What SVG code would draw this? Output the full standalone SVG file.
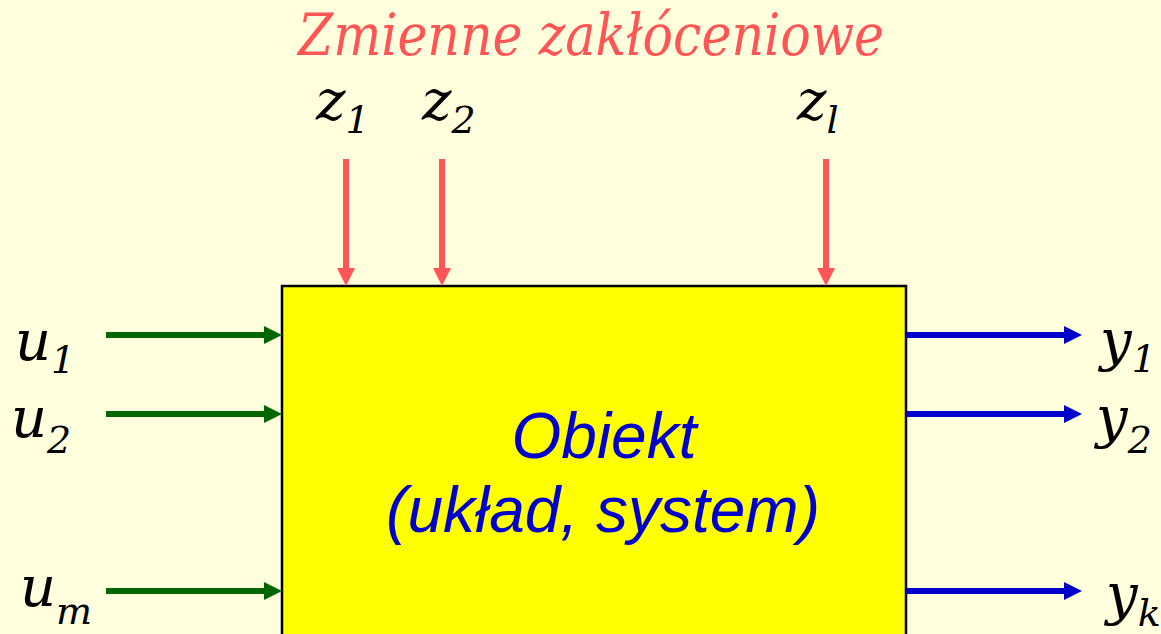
<svg xmlns="http://www.w3.org/2000/svg" width="1161" height="634" viewBox="0 0 1161 634">
<style>
.lbl{font-family:'DejaVu Serif',serif;font-style:italic;fill:#000;font-size:56px}
.sub{font-size:38px}
.title{font-family:'DejaVu Serif',serif;font-style:italic;fill:#FF5555;font-size:58px}
.obj{font-family:'Liberation Sans',sans-serif;font-style:italic;fill:#0000CC;font-size:64px}
.g{stroke:#006600;stroke-width:6;fill:none}
.b{stroke:#0000CC;stroke-width:6;fill:none}
.r{stroke:#FF5555;stroke-width:6;fill:none}
</style>
<defs>
<marker id="ag" markerUnits="userSpaceOnUse" markerWidth="18" markerHeight="18" refX="0" refY="9" orient="auto"><path d="M0,0 L18,9 L0,18 Z" fill="#006600"/></marker>
<marker id="ab" markerUnits="userSpaceOnUse" markerWidth="18" markerHeight="18" refX="0" refY="9" orient="auto"><path d="M0,0 L18,9 L0,18 Z" fill="#0000CC"/></marker>
<marker id="ar" markerUnits="userSpaceOnUse" markerWidth="18" markerHeight="18" refX="0" refY="9" orient="auto"><path d="M0,0 L18,9 L0,18 Z" fill="#FF5555"/></marker>
</defs>
<rect width="1161" height="634" fill="#FFFFDD"/>
<text class="title" x="591" y="55" text-anchor="middle" textLength="586" lengthAdjust="spacingAndGlyphs">Zmienne zakłóceniowe</text>
<g id="obiekt">
<rect x="282" y="286" width="624" height="360" fill="#FFFF00" stroke="#000" stroke-width="2.5"/>
<text class="obj" x="604" y="458" text-anchor="middle">Obiekt</text>
<text class="obj" x="603" y="532" text-anchor="middle">(układ, system)</text>
</g>
<g id="connectors">
<line class="g" x1="106" y1="335" x2="264" y2="335" marker-end="url(#ag)"/>
<line class="g" x1="106" y1="414" x2="264" y2="414" marker-end="url(#ag)"/>
<line class="g" x1="106" y1="591" x2="264" y2="591" marker-end="url(#ag)"/>
<line class="b" x1="906" y1="335" x2="1064" y2="335" marker-end="url(#ab)"/>
<line class="b" x1="906" y1="414" x2="1064" y2="414" marker-end="url(#ab)"/>
<line class="b" x1="906" y1="591" x2="1064" y2="591" marker-end="url(#ab)"/>
<line class="r" x1="346" y1="159" x2="346" y2="268" marker-end="url(#ar)"/>
<line class="r" x1="442" y1="159" x2="442" y2="268" marker-end="url(#ar)"/>
<line class="r" x1="826" y1="159" x2="826" y2="268" marker-end="url(#ar)"/>
</g>
<g id="u1"><text class="lbl" x="15" y="360">u<tspan class="sub" dy="13">1</tspan></text></g>
<g id="u2"><text class="lbl" x="11" y="437">u<tspan class="sub" dy="16">2</tspan></text></g>
<g id="um"><text class="lbl" x="20" y="606">u<tspan class="sub" dy="18" font-size="32">m</tspan></text></g>
<g id="y1"><text class="lbl" x="1100" y="360">y<tspan class="sub" dy="12">1</tspan></text></g>
<g id="y2"><text class="lbl" x="1096" y="437">y<tspan class="sub" dy="16">2</tspan></text></g>
<g id="yk"><text class="lbl" x="1106" y="614">y<tspan class="sub" dy="12" font-size="34">k</tspan></text></g>
<g id="z1"><text class="lbl" x="316" y="120">z<tspan class="sub" dy="13">1</tspan></text></g>
<g id="z2"><text class="lbl" x="422" y="120">z<tspan class="sub" dy="13">2</tspan></text></g>
<g id="zl"><text class="lbl" x="797" y="120">z<tspan class="sub" dy="13">l</tspan></text></g>
</svg>
